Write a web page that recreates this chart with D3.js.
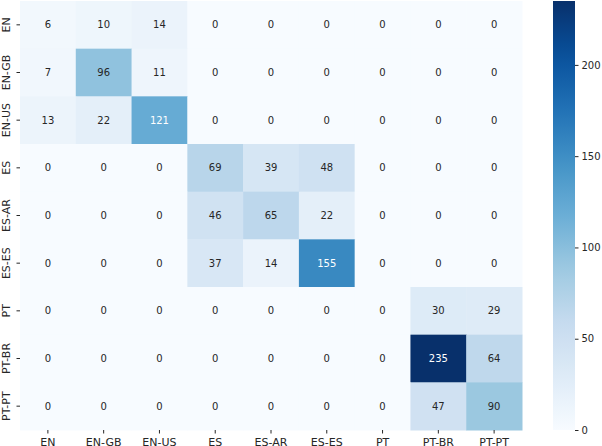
<!DOCTYPE html>
<html>
<head>
<meta charset="utf-8">
<script src="https://cdn.jsdelivr.net/npm/d3@7"></script>
<style>
body { margin: 0; background: #fff; }
svg { display: block; font-family: "DejaVu Sans", sans-serif; }
</style>
</head>
<body>
<div id="chart"></div>
<script>
// labels (same for rows and columns)
const labels = ["EN", "EN-GB", "EN-US", "ES", "ES-AR", "ES-ES", "PT", "PT-BR", "PT-PT"]

// confusion matrix, one array per row
const rowEN   = [6, 10, 14, 0, 0, 0, 0, 0, 0]
const rowENGB = [7, 96, 11, 0, 0, 0, 0, 0, 0]
const rowENUS = [13, 22, 121, 0, 0, 0, 0, 0, 0]
const rowES   = [0, 0, 0, 69, 39, 48, 0, 0, 0]
const rowESAR = [0, 0, 0, 46, 65, 22, 0, 0, 0]
const rowESES = [0, 0, 0, 37, 14, 155, 0, 0, 0]
const rowPT   = [0, 0, 0, 0, 0, 0, 0, 30, 29]
const rowPTBR = [0, 0, 0, 0, 0, 0, 0, 235, 64]
const rowPTPT = [0, 0, 0, 0, 0, 0, 0, 47, 90]
const matrix = [rowEN, rowENGB, rowENUS, rowES, rowESAR, rowESES, rowPT, rowPTBR, rowPTPT]

const cbTicks = [0, 50, 100, 150, 200]

// matplotlib Blues stops
const bluesStops = ["#f7fbff","#deebf7","#c6dbef","#9ecae1","#6baed6","#4292c6","#2171b5","#08519c","#08306b"]

const W = 602, H = 446
const mLeft = 20, mRight = 522, mTop = 1, mBottom = 430

const vmax = d3.max(matrix.flat())

const blues = d3.scaleLinear()
	.domain(d3.range(bluesStops.length).map(i => i / (bluesStops.length - 1)))
	.range(bluesStops)
	.interpolate(d3.interpolateRgb)
const color = v => blues(v / vmax)

const svg = d3.select("#chart").append("svg")
	.attr("width", W).attr("height", H)

const x = d3.scaleBand().domain(labels).range([mLeft, mRight])
const y = d3.scaleBand().domain(labels).range([mTop, mBottom])

let cells = []
matrix.forEach(function(row, r) {
	row.forEach(function(v, c) {
		cells.push({ row: labels[r], col: labels[c], value: v })
	})
})

// luminance like seaborn, to pick text colour
function lum(col) {
	let rgb = d3.rgb(col)
	let ch = [rgb.r, rgb.g, rgb.b].map(function(u) {
		u = u / 255
		return u <= 0.03928 ? u / 12.92 : Math.pow((u + 0.055) / 1.055, 2.4)
	})
	return 0.2126 * ch[0] + 0.7152 * ch[1] + 0.0722 * ch[2]
}

svg.append("g").selectAll("rect")
	.data(cells)
	.enter()
	.append("rect")
	.attr("x", d => x(d.col))
	.attr("y", d => y(d.row))
	.attr("width", x.bandwidth() + 0.5)
	.attr("height", y.bandwidth() + 0.5)
	.attr("fill", d => color(d.value))

svg.append("g").selectAll("text")
	.data(cells)
	.enter()
	.append("text")
	.attr("x", d => x(d.col) + x.bandwidth() / 2)
	.attr("y", d => y(d.row) + y.bandwidth() / 2)
	.attr("text-anchor", "middle")
	.attr("dominant-baseline", "central")
	.attr("font-size", 10)
	.attr("fill", d => lum(color(d.value)) > 0.408 ? "#262626" : "#ffffff")
	.text(d => d.value)

// x axis (labels run off the bottom edge like the original)
const xAxis = svg.append("g")
	.attr("transform", "translate(0," + mBottom + ")")
	.call(d3.axisBottom(x).tickSize(3.5).tickPadding(5))
xAxis.select(".domain").remove()
xAxis.selectAll("line").attr("stroke", "#262626")
xAxis.selectAll("text").attr("font-size", 11).attr("fill", "#262626")
	.attr("font-family", "DejaVu Sans")

// y axis, labels rotated
const yAxis = svg.append("g")
	.attr("transform", "translate(" + mLeft + ",0)")
	.call(d3.axisLeft(y).tickSize(3.5).tickPadding(3))
yAxis.select(".domain").remove()
yAxis.selectAll("line").attr("stroke", "#262626")
yAxis.selectAll("text")
	.attr("font-size", 11).attr("fill", "#262626")
	.attr("font-family", "DejaVu Sans")
	.attr("x", null).attr("dy", null)
	.attr("text-anchor", "middle")
	.attr("transform", "translate(-10.5,0) rotate(-90)")
	.attr("dominant-baseline", "auto")
	.attr("y", 0)

// colorbar
const cbX = 553, cbW = 22
const cbScale = d3.scaleLinear().domain([0, vmax]).range([mBottom, mTop])

const defs = svg.append("defs")
const grad = defs.append("linearGradient")
	.attr("id", "cbgrad")
	.attr("x1", "0").attr("y1", "1").attr("x2", "0").attr("y2", "0")
d3.range(0, 1.0001, 0.05).forEach(function(t) {
	grad.append("stop").attr("offset", t).attr("stop-color", blues(t))
})

svg.append("rect")
	.attr("x", cbX).attr("y", mTop)
	.attr("width", cbW).attr("height", mBottom - mTop)
	.attr("fill", "url(#cbgrad)")

const cbAxis = svg.append("g")
	.attr("transform", "translate(" + (cbX + cbW) + ",0)")
	.call(d3.axisRight(cbScale).tickValues(cbTicks).tickSize(3.5).tickPadding(3))
cbAxis.select(".domain").remove()
cbAxis.selectAll("line").attr("stroke", "#262626")
cbAxis.selectAll("text").attr("font-size", 10).attr("fill", "#262626")
	.attr("font-family", "DejaVu Sans")
</script>
</body>
</html>
